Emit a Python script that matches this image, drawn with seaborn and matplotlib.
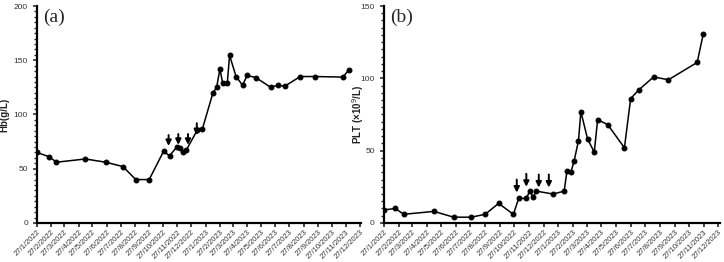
import matplotlib
matplotlib.use("Agg")
import matplotlib.pyplot as plt
import matplotlib.ticker as mticker
import seaborn as sns
import pandas as pd

sns.set_style("ticks")
plt.rcParams['font.family'] = ['Liberation Sans', 'DejaVu Sans']

# monthly ticks, 27th of each month
tick_dates = ["2022-01-27", "2022-02-27", "2022-03-27", "2022-04-27", "2022-05-27", "2022-06-27",
              "2022-07-27", "2022-08-27", "2022-09-27", "2022-10-27", "2022-11-27", "2022-12-27",
              "2023-01-27", "2023-02-27", "2023-03-27", "2023-04-27", "2023-05-27", "2023-06-27",
              "2023-07-27", "2023-08-27", "2023-09-27", "2023-10-27", "2023-11-27", "2023-12-27"]
tick_labels = ["27/1/2022", "27/2/2022", "27/3/2022", "27/4/2022", "27/5/2022", "27/6/2022",
               "27/7/2022", "27/8/2022", "27/9/2022", "27/10/2022", "27/11/2022", "27/12/2022",
               "27/1/2023", "27/2/2023", "27/3/2023", "27/4/2023", "27/5/2023", "27/6/2023",
               "27/7/2023", "27/8/2023", "27/9/2023", "27/10/2023", "27/11/2023", "27/12/2023"]

# (a) haemoglobin
hb_dates = ["2022-01-27", "2022-02-23", "2022-03-10", "2022-05-12", "2022-06-25", "2022-08-01",
            "2022-08-29", "2022-09-27", "2022-10-28", "2022-11-10", "2022-11-26", "2022-12-02",
            "2022-12-09", "2022-12-16", "2023-01-09", "2023-01-20", "2023-02-12", "2023-02-20",
            "2023-02-27", "2023-03-05", "2023-03-15", "2023-03-20", "2023-04-03", "2023-04-17",
            "2023-04-27", "2023-05-16", "2023-06-17", "2023-07-02", "2023-07-17", "2023-08-20",
            "2023-09-20", "2023-11-20", "2023-12-03"]
hb_values = [65, 61, 56, 59, 56, 52, 40, 40, 66, 62, 70, 69.5, 65, 67, 85.5, 86.5, 120, 125,
             142, 129, 129, 154.5, 135, 127, 136, 134, 125, 127, 126, 135, 135, 134.5, 141]
hb_arrow_dates = ["2022-11-08", "2022-11-29", "2022-12-20", "2023-01-08"]
hb_arrow_tips = [71, 72, 72, 81]
hb_arrow_tails = [81, 82, 82, 92]

# (b) platelets
plt_dates = ["2022-01-27", "2022-02-20", "2022-03-10", "2022-05-12", "2022-06-22", "2022-07-29",
             "2022-08-27", "2022-09-24", "2022-10-25", "2022-11-05", "2022-11-21", "2022-11-28",
             "2022-12-05", "2022-12-12", "2023-01-16", "2023-02-08", "2023-02-14", "2023-02-22",
             "2023-03-01", "2023-03-10", "2023-03-15", "2023-03-29", "2023-04-12", "2023-04-19",
             "2023-05-10", "2023-06-14", "2023-06-27", "2023-07-14", "2023-08-14", "2023-09-14",
             "2023-11-13", "2023-11-26"]
plt_values = [9, 10, 6, 8, 4, 4, 6, 13.5, 6, 17, 17, 22, 18, 22, 20, 22, 36, 35, 43, 57, 77,
              58, 49, 71.5, 68, 52, 86, 92, 101, 99, 111, 131]
plt_arrow_dates = ["2022-11-01", "2022-11-21", "2022-12-17", "2023-01-07"]
plt_arrow_tips = [21, 25, 24.5, 24.5]
plt_arrow_tails = [30, 34, 33.5, 33.5]

fig = plt.figure(figsize=(7.24, 2.62), dpi=100)
ax_a = fig.add_axes([0.051, 0.149, 0.448, 0.828])
ax_b = fig.add_axes([0.530, 0.149, 0.464, 0.828])

panels = [
    (ax_a, hb_dates, hb_values, hb_arrow_dates, hb_arrow_tips, hb_arrow_tails,
     200, "Hb(g/L)", "(a)", -0.085),
    (ax_b, plt_dates, plt_values, plt_arrow_dates, plt_arrow_tips, plt_arrow_tails,
     150, "PLT (×10$^9$/L)", "(b)", -0.052),
]

for ax, dates, vals, a_dates, a_tips, a_tails, ymax, ylab, tag, lab_x in panels:
    df = pd.DataFrame({"date": pd.to_datetime(dates), "value": vals})
    sns.lineplot(data=df, x="date", y="value", ax=ax, color="black", linewidth=1.1,
                 marker="o", markersize=3.5, markeredgecolor="black")
    for d, tip, tail in zip(a_dates, a_tips, a_tails):
        ax.annotate("", xy=(pd.Timestamp(d), tip), xytext=(pd.Timestamp(d), tail),
                    arrowprops=dict(arrowstyle="-|>", color="black", lw=1.4,
                                    mutation_scale=8, shrinkA=0, shrinkB=0))
    ticks = pd.to_datetime(tick_dates)
    ax.set_xticks(ticks)
    ax.set_xticklabels(tick_labels, rotation=45, ha="right", rotation_mode="anchor",
                       fontsize=5.5, color="#333333")
    ax.set_xlim(ticks[0], ticks[-1] + pd.Timedelta(days=3))
    ax.set_ylim(0, ymax)
    ax.yaxis.set_major_locator(mticker.MultipleLocator(50))
    ax.yaxis.set_minor_locator(mticker.MultipleLocator(5))
    ax.tick_params(axis="y", labelsize=6, colors="#333333", length=3, width=1.2)
    ax.tick_params(axis="y", which="minor", length=2, width=1.0)
    ax.tick_params(axis="x", length=3, width=1.2, pad=1)
    ax.tick_params(axis="both", labelcolor="#333333")
    ax.set_xlabel("")
    ax.set_ylabel(ylab, fontsize=7, fontweight="bold", color="#222222")
    ax.yaxis.set_label_coords(lab_x, 0.5)
    for s in ["left", "bottom"]:
        ax.spines[s].set_linewidth(1.6)
        ax.spines[s].set_color("black")
    sns.despine(ax=ax)
    ax.text(0.02, 0.99, tag, transform=ax.transAxes, ha="left", va="top",
            fontsize=14, family=["Liberation Serif", "DejaVu Serif"])

fig.savefig("out.png", dpi=100)
plt.close(fig)
